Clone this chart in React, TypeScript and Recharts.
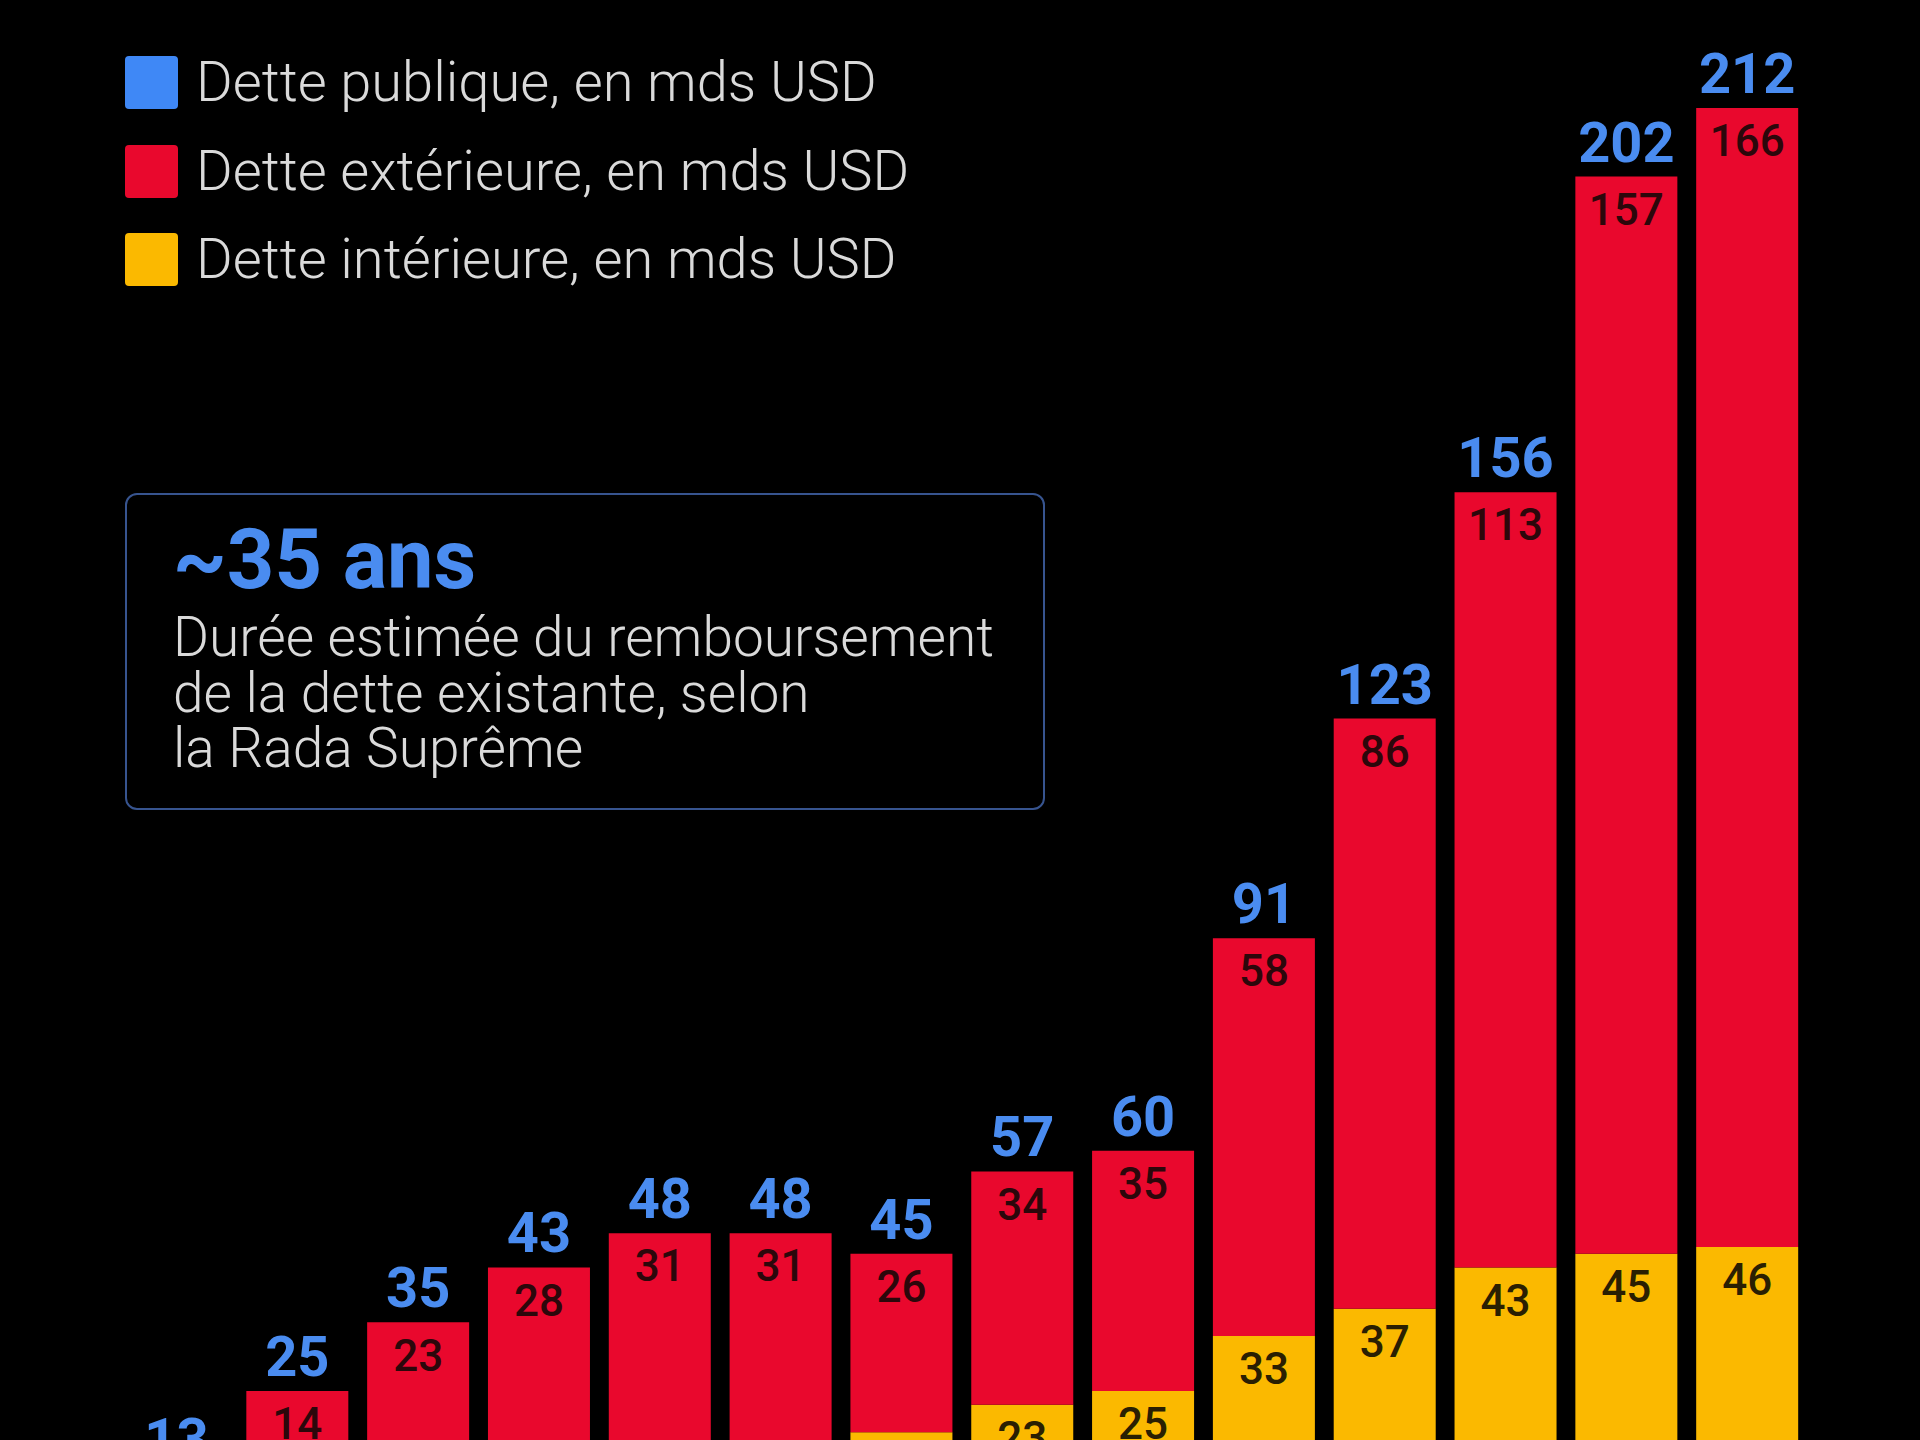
import React from 'react';
import { BarChart, Bar, XAxis, YAxis, LabelList, Legend } from 'recharts';

// stacked debt bars, values read off the graphic (first bar split is a guess, it sits below the crop)
const periods = ['1', '2', '3', '4', '5', '6', '7', '8', '9', '10', '11', '12', '13', '14'];
const interior = [4, 11, 12, 15, 17, 17, 19, 23, 25, 33, 37, 43, 45, 46];
const exterior = [9, 14, 23, 28, 31, 31, 26, 34, 35, 58, 86, 113, 157, 166];
const totals = [13, 25, 35, 43, 48, 48, 45, 57, 60, 91, 123, 156, 202, 212];

const legendItems = [
  { label: 'Dette publique, en mds USD', color: '#3f88f6' },
  { label: 'Dette extérieure, en mds USD', color: '#e9082d' },
  { label: 'Dette intérieure, en mds USD', color: '#fbb900' },
];

const data = periods.map((p, i) => ({
  period: p,
  interior: interior[i],
  exterior: exterior[i],
  total: totals[i],
}));

const FONT = 'Roboto, "Noto Sans", sans-serif';

const LegendBlock = () => (
  <div style={{ fontFamily: FONT }}>
    {legendItems.map((item) => (
      <div key={item.label} style={{ display: 'flex', alignItems: 'center', height: 53, marginBottom: 35.5 }}>
        <div style={{ width: 53, height: 53, background: item.color, borderRadius: 4 }} />
        <span style={{ marginLeft: 18, fontSize: 56, fontWeight: 300, color: '#dadada', lineHeight: '53px', whiteSpace: 'nowrap' }}>
          {item.label}
        </span>
      </div>
    ))}
  </div>
);

const App: React.FC = () => {
  return (
    <div style={{ position: 'absolute', left: 0, top: 0, width: 1920, height: 1440, overflow: 'hidden', background: '#000' }}>
      <BarChart
        width={1920}
        height={1600}
        data={data}
        margin={{ top: 108, right: 112, left: 116.5, bottom: 37.5 }}
      >
        <XAxis dataKey="period" hide />
        <YAxis hide domain={[0, 212]} />
        <Legend
          layout="horizontal"
          verticalAlign="middle"
          align="center"
          wrapperStyle={{ top: 56, left: 125, width: 'auto' }}
          content={() => <LegendBlock />}
        />
        <Bar dataKey="interior" stackId="d" fill="#fbb900" barSize={102} isAnimationActive={false}>
          <LabelList
            dataKey="interior"
            position="insideTop"
            offset={17}
            fill="#2a1f02"
            fontSize={44}
            fontWeight={500}
            fontFamily={FONT}
          />
        </Bar>
        <Bar dataKey="exterior" stackId="d" fill="#e9082d" barSize={102} isAnimationActive={false}>
          <LabelList
            dataKey="exterior"
            position="insideTop"
            offset={17}
            fill="#2c070b"
            fontSize={44}
            fontWeight={500}
            fontFamily={FONT}
          />
          <LabelList
            dataKey="total"
            position="top"
            offset={15}
            fill="#4a8cf0"
            fontSize={56}
            fontWeight={700}
            fontFamily={FONT}
          />
        </Bar>
      </BarChart>

      <div
        style={{
          position: 'absolute',
          left: 125,
          top: 493,
          width: 920,
          height: 317,
          boxSizing: 'border-box',
          border: '2px solid #37548f',
          borderRadius: 12,
          fontFamily: FONT,
        }}
      >
        <div style={{ position: 'absolute', left: 46, top: 25, fontSize: 83, lineHeight: '80px', fontWeight: 700, color: '#4a8cf0', whiteSpace: 'nowrap' }}>
          ~35 ans
        </div>
        <div style={{ position: 'absolute', left: 46, top: 115, fontSize: 55, lineHeight: '55.5px', fontWeight: 300, color: '#dadada', whiteSpace: 'nowrap' }}>
          <div>Durée estimée du remboursement</div>
          <div>de la dette existante, selon</div>
          <div>la Rada Suprême</div>
        </div>
      </div>
    </div>
  );
};

export default App;
